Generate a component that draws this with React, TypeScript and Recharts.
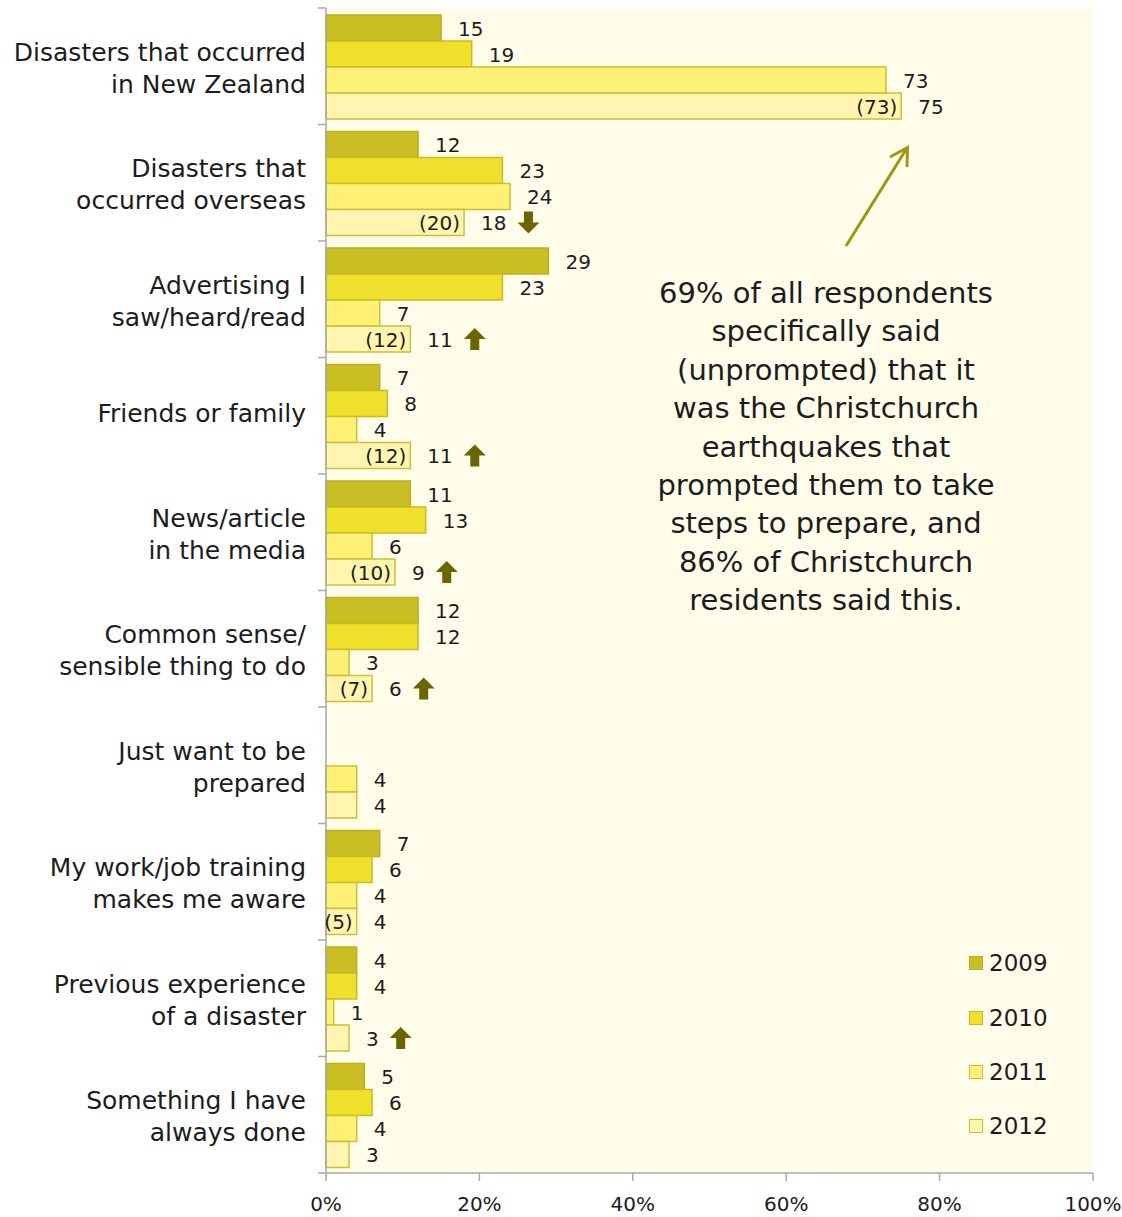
import React from "react";
import {
  BarChart,
  Bar,
  XAxis,
  YAxis,
  CartesianGrid,
  LabelList,
  Legend,
} from "recharts";

const categories = [
  "Disasters that occurred\nin New Zealand",
  "Disasters that\noccurred overseas",
  "Advertising I\nsaw/heard/read",
  "Friends or family",
  "News/article\nin the media",
  "Common sense/\nsensible thing to do",
  "Just want to be\nprepared",
  "My work/job training\nmakes me aware",
  "Previous experience\nof a disaster",
  "Something I have\nalways done",
];

const v2009 = [15, 12, 29, 7, 11, 12, null, 7, 4, 5];
const v2010 = [19, 23, 23, 8, 13, 12, null, 6, 4, 6];
const v2011 = [73, 24, 7, 4, 6, 3, 4, 4, 1, 4];
const v2012 = [75, 18, 11, 11, 9, 6, 4, 4, 3, 3];
// bracketed figures shown inside the 2012 bars
const bracket2012 = [73, 20, 12, 12, 10, 7, null, 5, null, null];
// significant change indicators for 2012
const change2012 = [null, "down", "up", "up", "up", "up", null, null, "up", null];

const seriesNames = ["2009", "2010", "2011", "2012"];
const xTicks = [0, 20, 40, 60, 80, 100];

const annotationLines = [
  "69% of all respondents",
  "specifically said",
  "(unprompted) that it",
  "was the Christchurch",
  "earthquakes that",
  "prompted them to take",
  "steps to prepare, and",
  "86% of Christchurch",
  "residents said this.",
];

const fills = ["#C9BE24", "#EFE02C", "#FFF176", "#FFF5B0"];
const strokes = ["#BBAF1C", "#C9BA1E", "#CDBE2A", "#CDBE36"];

const data = categories.map((name, i) => ({
  name,
  y2009: v2009[i],
  y2010: v2010[i],
  y2011: v2011[i],
  y2012: v2012[i],
  bracket: bracket2012[i],
  change: change2012[i],
}));

const CHART_W = 1122;
const CHART_H = 1217;
const MARGIN = { top: 8, right: 29, bottom: 0, left: 0 };
const X_AXIS_H = 44;
const Y_AXIS_W = 326;
const BAND = (CHART_H - MARGIN.top - MARGIN.bottom - X_AXIS_H) / categories.length;

const TEXT = "#1c1c1c";
const AXIS = "#A8A8A8";
const ARROW = "#6B6500";
const FONT = "'DejaVu Sans', sans-serif";

const CategoryTick = (props: any) => {
  const { x, y, payload, index } = props;
  const lines = String(payload.value).split("\n");
  const offsets = lines.length === 1 ? [-2] : [-14, 18];
  const axisX = x + 20;
  return (
    <g>
      <line
        x1={axisX - 8}
        x2={axisX}
        y1={y - BAND / 2}
        y2={y - BAND / 2}
        stroke={AXIS}
        strokeWidth={1.5}
      />
      {index === categories.length - 1 ? (
        <line
          x1={axisX - 8}
          x2={axisX}
          y1={y + BAND / 2}
          y2={y + BAND / 2}
          stroke={AXIS}
          strokeWidth={1.5}
        />
      ) : null}
      {lines.map((ln, i) => (
        <text
          key={i}
          x={x}
          y={y + offsets[i]}
          textAnchor="end"
          dominantBaseline="central"
          fontSize={25}
          fill={TEXT}
        >
          {ln}
        </text>
      ))}
    </g>
  );
};

const getBox = (props: any) => {
  const vb = props.viewBox || {};
  const x = props.x ?? vb.x;
  const y = props.y ?? vb.y;
  const width = props.width ?? vb.width;
  const height = props.height ?? vb.height;
  return { x: Number(x), y: Number(y), width: Number(width), height: Number(height) };
};

const ValueLabel = (props: any) => {
  const { value } = props;
  if (value === null || value === undefined) return null;
  const { x, y, width, height } = getBox(props);
  return (
    <text
      x={x + width + 17}
      y={y + height / 2 + 1}
      dominantBaseline="central"
      fontSize={20}
      fill={TEXT}
    >
      {value}
    </text>
  );
};

const Label2012 = (props: any) => {
  const { value, index } = props;
  if (value === null || value === undefined) return null;
  const { x, y, width, height } = getBox(props);
  const row = data[index];
  const end = x + width;
  const cy = y + height / 2 + 1;
  const labelW = String(value).length * 12.7;
  const ax = end + 17 + labelW + 22;
  const acy = y + height / 2;
  let arrow = null;
  if (row && row.change === "up") {
    arrow = (
      <path
        d={`M${ax},${acy - 11} L${ax + 11},${acy} L${ax + 4.5},${acy} L${ax + 4.5},${acy + 11} L${ax - 4.5},${acy + 11} L${ax - 4.5},${acy} L${ax - 11},${acy} Z`}
        fill={ARROW}
      />
    );
  } else if (row && row.change === "down") {
    arrow = (
      <path
        d={`M${ax},${acy + 11} L${ax + 11},${acy} L${ax + 4.5},${acy} L${ax + 4.5},${acy - 11} L${ax - 4.5},${acy - 11} L${ax - 4.5},${acy} L${ax - 11},${acy} Z`}
        fill={ARROW}
      />
    );
  }
  return (
    <g>
      {row && row.bracket !== null && row.bracket !== undefined ? (
        <text
          x={end - 4}
          y={cy}
          textAnchor="end"
          dominantBaseline="central"
          fontSize={20}
          fill={TEXT}
        >
          {`(${row.bracket})`}
        </text>
      ) : null}
      <text x={end + 17} y={cy} dominantBaseline="central" fontSize={20} fill={TEXT}>
        {value}
      </text>
      {arrow}
    </g>
  );
};

const LegendContent = (props: any) => {
  const payload = props.payload || [];
  return (
    <div style={{ fontFamily: FONT }}>
      {payload.map((entry: any, i: number) => (
        <div
          key={i}
          style={{ display: "flex", alignItems: "center", height: 54.4 }}
        >
          <div
            style={{
              width: 12,
              height: 12,
              background: fills[i],
              border: `1.5px solid ${strokes[i]}`,
              marginRight: 6,
            }}
          />
          <span style={{ fontSize: 23, color: TEXT }}>{entry.value}</span>
        </div>
      ))}
    </div>
  );
};

export default function App() {
  return (
    <div
      style={{
        position: "absolute",
        left: 0,
        top: 0,
        width: CHART_W,
        height: CHART_H,
        background: "#ffffff",
        fontFamily: FONT,
      }}
    >
      <BarChart
        width={CHART_W}
        height={CHART_H}
        data={data}
        layout="vertical"
        margin={MARGIN}
        barCategoryGap="6%"
        barGap={0}
      >
        <CartesianGrid
          fill="#FFFDE9"
          horizontal={false}
          vertical={false}
          stroke="none"
        />
        <XAxis
          type="number"
          domain={[0, 100]}
          ticks={xTicks}
          tickFormatter={(v: number) => `${v}%`}
          height={X_AXIS_H}
          tickSize={8}
          tickMargin={16}
          axisLine={{ stroke: AXIS, strokeWidth: 1.5 }}
          tickLine={{ stroke: AXIS, strokeWidth: 1.5 }}
          tick={{ fontSize: 20, fill: TEXT }}
          interval={0}
        />
        <YAxis
          type="category"
          dataKey="name"
          width={Y_AXIS_W}
          tickSize={0}
          tickMargin={20}
          axisLine={{ stroke: AXIS, strokeWidth: 1.5 }}
          tickLine={false}
          tick={<CategoryTick />}
          interval={0}
        />
        <Legend
          layout="vertical"
          align="center"
          verticalAlign="middle"
          content={<LegendContent />}
          wrapperStyle={{ left: 969, top: 936, width: 140, height: 220 }}
        />
        <Bar
          dataKey="y2009"
          name={seriesNames[0]}
          fill={fills[0]}
          stroke={strokes[0]}
          strokeWidth={1.5}
          isAnimationActive={false}
        >
          <LabelList dataKey="y2009" content={<ValueLabel />} />
        </Bar>
        <Bar
          dataKey="y2010"
          name={seriesNames[1]}
          fill={fills[1]}
          stroke={strokes[1]}
          strokeWidth={1.5}
          isAnimationActive={false}
        >
          <LabelList dataKey="y2010" content={<ValueLabel />} />
        </Bar>
        <Bar
          dataKey="y2011"
          name={seriesNames[2]}
          fill={fills[2]}
          stroke={strokes[2]}
          strokeWidth={1.5}
          isAnimationActive={false}
        >
          <LabelList dataKey="y2011" content={<ValueLabel />} />
        </Bar>
        <Bar
          dataKey="y2012"
          name={seriesNames[3]}
          fill={fills[3]}
          stroke={strokes[3]}
          strokeWidth={1.5}
          isAnimationActive={false}
        >
          <LabelList dataKey="y2012" content={<Label2012 />} />
        </Bar>
      </BarChart>
      <svg
        width={CHART_W}
        height={CHART_H}
        style={{ position: "absolute", left: 0, top: 0, pointerEvents: "none" }}
      >
        <line x1={846} y1={246} x2={907} y2={148} stroke="#9E9612" strokeWidth={3} />
        <polyline
          points="890,157 907.5,147.5 907,167"
          fill="none"
          stroke="#9E9612"
          strokeWidth={3}
        />
        {annotationLines.map((ln, i) => (
          <text
            key={i}
            x={826}
            y={293 + i * 38.4}
            textAnchor="middle"
            dominantBaseline="central"
            fontSize={29}
            fill={TEXT}
            fontFamily={FONT}
          >
            {ln}
          </text>
        ))}
      </svg>
    </div>
  );
}
